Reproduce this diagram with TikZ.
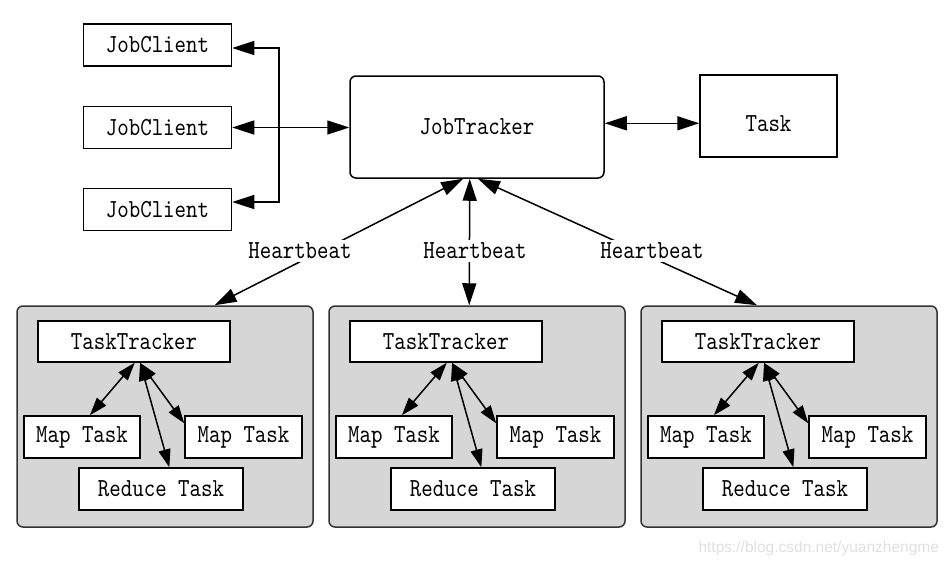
\documentclass[tikz,border=0pt]{standalone}
\usepackage{fontspec}
\setsansfont{Liberation Sans}
\setmonofont[FakeStretch=0.84]{lmmono10-regular.otf}
\usetikzlibrary{arrows.meta}

\begin{document}
\begin{tikzpicture}[x=1pt,y=-1pt,line width=1.5pt,
  font=\ttfamily\fontsize{26}{28}\selectfont,
  >={Triangle[length=22pt,width=14pt]},
  box/.style={draw,fill=white,inner sep=0pt},
  group/.style={draw=black!80,fill=black!16,rounded corners=6pt,inner sep=0pt,
    minimum width=296pt,minimum height=221pt},
  link/.style={<->,>={Triangle[length=18pt,width=12pt]}},
  beat/.style={fill=white,inner sep=3pt}]
  \useasboundingbox (0,0) rectangle (952,566);
  %draw job clients
  \node[box,minimum width=148pt,minimum height=42pt] (jc1) at (157.5,45) {JobClient};
  \node[box,minimum width=148pt,minimum height=42pt] (jc2) at (157.5,127.5) {JobClient};
  \node[box,minimum width=148pt,minimum height=42pt] (jc3) at (157.5,209.5) {JobClient};
  %draw job tracker and task
  \node[box,rounded corners=6pt,minimum width=254pt,minimum height=102pt] (jt) at (477,127) {JobTracker};
  \node[box,minimum width=137pt,minimum height=82pt,text height=32pt] (task) at (768.5,116) {Task};
  \draw[<->] (jt.east |- task.186) -- (task.186);
  %draw client bus
  \coordinate (bt) at (279,48);
  \coordinate (bb) at (279,202);
  \draw[<->] (bt -| jc1.east) -- (bt) -- (bb) -- (bb -| jc3.east);
  \draw[<->] (jc2.east) -- (jc2.east -| jt.west);
  %draw task tracker groups
  \foreach \i/\dx in {1/0,2/312,3/624} {
    \node[group] (grp\i) at (165+\dx,416.5) {};
    \node[box,minimum width=192pt,minimum height=41pt] (tt\i) at (134+\dx,341.5) {TaskTracker};
    \node[box,minimum width=116pt,minimum height=42pt] (mapa\i) at (82+\dx,437) {Map Task};
    \node[box,minimum width=117pt,minimum height=42pt] (mapb\i) at (243.5+\dx,437) {Map Task};
    \node[box,minimum width=164pt,minimum height=42pt] (red\i) at (161+\dx,489) {Reduce Task};
    \draw[link] (tt\i.-88) -- (mapa\i.70);
    \draw[link] (tt\i.-74) -- (red\i.69);
    \draw[link] (tt\i.-74) -- (mapb\i.167);
  }
  %draw heartbeats
  \draw[<->] (jt.-105) -- (grp1.66);
  \draw[<->] (jt.-98) -- (grp2.94);
  \draw[<->] (jt.-89) -- (grp3.106);
  \node[beat] (hb1) at (300,251) {Heartbeat};
  \node[beat] (hb2) at (475,251) {Heartbeat};
  \node[beat] (hb3) at (652,251) {Heartbeat};
  \node[font=\sffamily\fontsize{15.5}{18}\selectfont,text=black!12,anchor=east] (wm) at (943,548) {https://blog.csdn.net/yuanzhengme};
\end{tikzpicture}
\end{document}
